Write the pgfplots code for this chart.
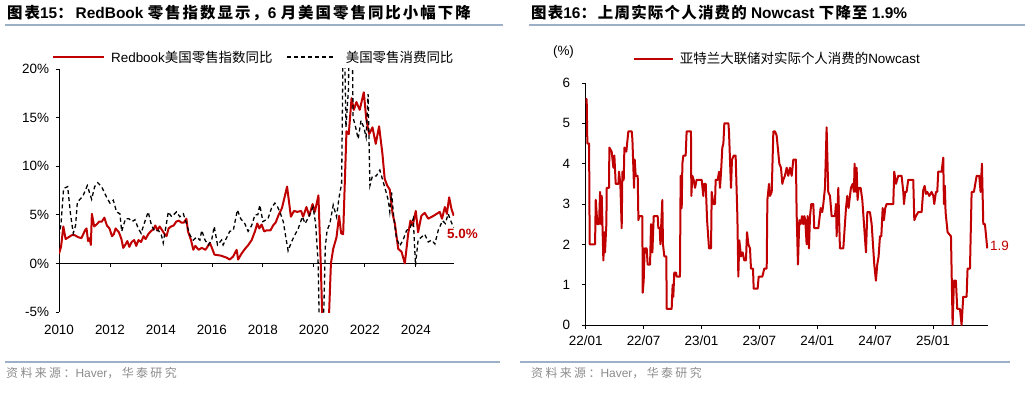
\documentclass[border=0pt]{standalone}
\usepackage{fontspec}
\setmainfont{Liberation Sans}
\newfontfamily\cjk{Noto Sans CJK SC}
\newfontfamily\cjkt{Noto Sans CJK SC}[LetterSpace=8]
\newfontfamily\cjktl{Noto Sans CJK SC}[LetterSpace=13]
\newfontfamily\cjks{Noto Sans CJK SC}[LetterSpace=20]
\usepackage{pgfplots}
\pgfplotsset{compat=1.18}
\definecolor{hred}{HTML}{C00000}
\definecolor{rulec}{HTML}{9CB0C8}
\definecolor{srcgray}{HTML}{8C8C8C}
\newcommand\zh[1]{{\cjk #1}}
\newcommand\zt[1]{{\cjkt #1}}
\newcommand\ztl[1]{{\cjktl #1}}
\newcommand\zs[1]{{\cjks #1}}
\newcommand\fs[1]{\fontsize{#1}{#1}\selectfont}
\begin{document}
\begin{tikzpicture}[x=1bp,y=1bp]
\path[use as bounding box] (0,0) rectangle (1030,392);
\fill[rulec] (5,366) rectangle (503,368);
\fill[rulec] (529,366) rectangle (1025,368);
\fill[rulec] (5,29) rectangle (500,31);
\fill[rulec] (520,29) rectangle (1010,31);
% titles
\node[anchor=base west, inner sep=0] at (7,374) {\fs{15.5}\bfseries \ztl{图表}15\ztl{：}\hspace{3bp}RedBook \ztl{零售指数显示，}6 \ztl{月美国零售同比小幅下降}};
\node[anchor=base west, inner sep=0] at (531,374) {\fs{15.5}\bfseries \zt{图表}16\zt{：}\hspace{2bp}\zt{上周实际个人消费的} Nowcast \zt{下降至} 1.9\%};
\node[anchor=west, inner sep=0, text=srcgray] at (6,19) {\fs{12}\zs{资料来源：}Haver\zs{，华泰研究}};
\node[anchor=west, inner sep=0, text=srcgray] at (531,19) {\fs{12}\zs{资料来源：}Haver\zs{，华泰研究}};

\begin{axis}[
  at={(59bp,80bp)}, anchor=south west, scale only axis,
  width=395bp, height=243bp,
  xmin=2010, xmax=2025.5, ymin=-5, ymax=20,
  axis y line=left, axis x line=middle, axis line style={-, line width=0.8bp},
  hide obscured x ticks=false,
  xtick={2010,2012,2014,2016,2018,2020,2022,2024},
  xticklabels={2010,2012,2014,2016,2018,2020,2022,2024},
  ytick={-5,0,5,10,15,20},
  yticklabels={-5\%,0\%,5\%,10\%,15\%,20\%},
  tick align=outside, major tick length=3.5bp,
  tick style={black, line width=0.8bp},
  xticklabel style={yshift=-55bp},
  yticklabel style={xshift=-3bp},
  tick label style={font=\fs{13.5}},
  legend style={at={(-0.018,1.049)}, anchor=west, draw=none, fill=none,
    inner sep=0pt, font=\fs{13.5}, legend columns=2,
    nodes={inner sep=0pt},
    /tikz/column 1/.style={column sep=6bp},
    /tikz/column 2/.style={column sep=14bp},
    /tikz/column 3/.style={column sep=11bp}},
  legend cell align=left,
]
\addplot[hred, line width=2bp, line join=round,
  legend image code/.code={\draw[hred, line width=2bp] (0bp,0bp) -- (51bp,0bp);}] coordinates {
(2010.00,1.0)(2010.08,1.7)(2010.17,3.8)(2010.26,2.5)(2010.38,2.7)(2010.50,2.9)(2010.62,2.9)(2010.75,2.7)(2010.88,2.6)
(2011.02,3.4)(2011.08,3.6)(2011.14,2.3)(2011.20,2.6)(2011.25,1.9)(2011.29,5.1)(2011.38,3.8)(2011.47,4.0)(2011.58,4.3)(2011.68,4.3)(2011.78,4.7)(2011.88,3.9)(2011.98,3.6)
(2012.08,2.8)(2012.15,3.0)(2012.22,3.6)(2012.35,3.2)(2012.45,2.5)(2012.52,1.6)(2012.60,1.9)(2012.68,2.3)(2012.76,1.7)(2012.85,2.2)(2012.95,2.4)
(2013.03,1.8)(2013.12,2.4)(2013.22,2.2)(2013.32,2.8)(2013.40,2.5)(2013.50,3.0)(2013.60,3.3)(2013.70,3.5)(2013.78,3.9)(2013.86,3.4)(2013.95,3.8)
(2014.05,3.4)(2014.15,3.0)(2014.22,2.8)(2014.30,3.6)(2014.40,3.8)(2014.50,3.9)(2014.60,4.3)(2014.70,4.4)(2014.80,4.2)(2014.90,4.2)
(2015.00,4.6)(2015.06,3.3)(2015.18,2.4)(2015.27,1.4)(2015.35,1.8)(2015.48,1.4)(2015.60,1.6)(2015.75,1.4)(2015.92,2.1)
(2016.00,1.6)(2016.10,0.9)(2016.35,0.8)(2016.57,0.6)(2016.70,0.4)(2016.83,0.7)(2016.97,1.4)
(2017.03,0.4)(2017.16,1.0)(2017.30,1.5)(2017.43,1.9)(2017.56,2.4)(2017.69,3.3)(2017.78,4.1)(2017.86,3.6)(2017.95,4.0)
(2018.05,3.3)(2018.15,3.4)(2018.30,3.4)(2018.40,3.9)(2018.50,4.2)(2018.62,5.0)(2018.75,5.7)(2018.95,7.9)
(2019.10,4.8)(2019.22,5.4)(2019.35,5.3)(2019.50,5.4)(2019.58,4.8)(2019.71,5.8)(2019.82,4.9)(2019.95,6.1)
(2020.04,5.3)(2020.18,7.0)(2020.27,0.0)(2020.37,-9.0)(2020.50,-9.0)(2020.60,-5.0)(2020.67,0.0)(2020.76,1.5)(2020.89,2.7)(2020.99,4.9)
(2021.07,3.1)(2021.15,3.0)(2021.28,13.6)(2021.37,13.3)(2021.48,17.0)(2021.57,15.8)(2021.67,16.6)(2021.80,15.8)(2021.96,17.6)
(2022.06,14.8)(2022.17,13.3)(2022.30,14.0)(2022.43,12.3)(2022.56,14.1)(2022.69,11.3)(2022.78,8.7)(2022.88,8.0)(2022.98,7.6)
(2023.09,5.1)(2023.18,4.1)(2023.31,1.5)(2023.44,1.2)(2023.57,0.0)(2023.70,3.0)(2023.79,4.4)(2023.88,3.9)
(2024.00,5.4)(2024.09,3.2)(2024.22,4.9)(2024.35,5.2)(2024.49,4.6)(2024.70,4.9)(2024.94,5.3)
(2025.03,4.6)(2025.14,5.8)(2025.22,5.1)(2025.31,6.8)(2025.40,5.6)(2025.49,4.9)
};
\addlegendentry{Redbook\zh{美国零售指数同比}}
\addplot[black, line width=1.3bp, dash pattern=on 4bp off 3bp,
  legend image code/.code={\draw[black, line width=1.3bp, dash pattern=on 4bp off 3bp] (0bp,0bp) -- (47bp,0bp);}] coordinates {
(2010.00,2.8)(2010.08,4.1)(2010.18,7.7)(2010.34,7.9)(2010.45,5.1)(2010.56,3.1)(2010.65,3.9)(2010.72,6.3)(2010.86,6.7)(2010.95,7.0)
(2011.11,8.0)(2011.28,6.6)(2011.40,7.9)(2011.52,8.3)(2011.67,7.9)(2011.87,6.8)
(2012.00,6.2)(2012.13,6.5)(2012.26,5.3)(2012.39,5.1)(2012.46,3.3)(2012.61,4.6)(2012.74,4.6)(2012.87,4.3)(2012.98,4.5)
(2013.11,3.6)(2013.22,3.1)(2013.37,4.3)(2013.50,5.3)(2013.63,3.9)(2013.76,3.3)(2013.90,3.4)
(2014.02,2.9)(2014.09,2.1)(2014.29,5.3)(2014.42,4.8)(2014.61,5.3)(2014.74,4.8)(2014.88,5.1)
(2015.00,4.1)(2015.14,2.9)(2015.27,2.4)(2015.40,2.7)(2015.53,2.4)(2015.60,3.4)(2015.73,2.4)(2015.86,1.9)(2015.99,2.4)
(2016.09,3.8)(2016.22,1.9)(2016.38,2.4)(2016.44,1.9)(2016.57,2.6)(2016.70,3.3)(2016.84,3.4)
(2017.00,5.5)(2017.13,4.6)(2017.29,4.1)(2017.42,3.3)(2017.56,3.9)(2017.69,5.0)(2017.80,5.0)(2017.88,6.0)
(2018.00,4.3)(2018.20,4.6)(2018.34,5.7)(2018.47,6.2)(2018.58,5.8)(2018.68,5.2)(2018.80,4.3)(2018.90,2.7)(2018.99,1.3)
(2019.12,2.2)(2019.25,2.9)(2019.39,3.6)(2019.55,4.8)(2019.66,4.1)(2019.80,4.8)(2019.97,5.8)
(2020.07,4.1)(2020.17,0.0)(2020.28,-16)(2020.38,-6)(2020.45,1.7)(2020.52,3.4)(2020.63,4.1)(2020.76,6.0)(2020.89,4.8)(2020.99,6.8)
(2021.09,8.2)(2021.17,28)(2021.26,14.0)(2021.36,18)(2021.44,40)(2021.54,15.0)(2021.64,14.0)(2021.74,12.8)(2021.85,14.7)(2021.96,14.0)
(2022.05,13.0)(2022.13,17.4)(2022.20,8.0)(2022.30,9.0)(2022.45,9.0)(2022.59,9.6)(2022.72,8.4)(2022.85,7.2)(2022.92,6.5)(2022.98,5.3)
(2023.05,7.3)(2023.14,4.6)(2023.24,2.6)(2023.37,1.8)(2023.50,2.4)(2023.64,3.4)(2023.77,3.6)(2023.90,4.6)(2023.99,-0.2)
(2024.09,2.4)(2024.22,2.7)(2024.35,3.0)(2024.49,2.2)(2024.62,2.4)(2024.75,2.0)(2024.88,3.4)
(2025.05,4.4)(2025.16,4.1)(2025.27,5.1)(2025.40,4.2)(2025.49,3.7)
};
\addlegendentry{\zh{美国零售消费同比}}
\end{axis}
\node[anchor=west, inner sep=0, text=hred] at (447,158) {\fs{13.5}\bfseries 5.0\%};

\begin{axis}[
  at={(585.7bp,67bp)}, anchor=south west, scale only axis,
  width=402.3bp, height=242bp,
  xmin=0, xmax=41.7, ymin=0, ymax=6,
  axis lines=left, axis line style={-, line width=0.8bp},
  xtick={0,6,12,18,24,30,36},
  xticklabels={22/01,22/07,23/01,23/07,24/01,24/07,25/01},
  ytick={0,1,2,3,4,5,6}, yticklabels={0,1,2,3,4,5,6},
  tick align=outside, major tick length=4bp,
  tick style={black, line width=0.8bp},
  yticklabel style={xshift=-8bp},
  xticklabel style={yshift=-3bp},
  tick label style={font=\fs{13.5}},
  legend style={at={(0.117,1.099)}, anchor=west, draw=none, fill=none,
    inner sep=0pt, font=\fs{13.5}, nodes={inner sep=0pt},
    /tikz/every odd column/.style={column sep=6bp}},
  legend cell align=left,
]
\addplot[hred, line width=2bp, line join=round,
  legend image code/.code={\draw[hred, line width=2bp] (0bp,0bp) -- (39bp,0bp);}] coordinates {
(0,5.6)(0.10,5.6)(0.17,4.5)(0.35,4.5)(0.41,2.0)(0.97,2.0)(1.04,3.1)(1.21,2.5)(1.38,2.5)(1.49,3.3)(1.59,2.5)(1.66,3.2)(1.83,1.6)(1.93,2.3)
(2.00,1.8)(2.14,2.5)(2.18,3.4)(2.42,3.4)(2.45,4.4)(2.69,4.3)(2.87,3.9)(2.97,4.2)(3.11,3.5)(3.39,3.5)(3.45,3.8)(3.59,3.5)(3.73,2.4)(3.80,3.8)(3.94,3.6)
(4.01,4.4)(4.21,4.3)(4.42,4.8)(4.77,4.8)(4.84,4.6)(5.01,3.4)(5.08,4.1)(5.18,3.7)(5.39,3.7)(5.46,2.6)(5.56,2.7)(5.87,2.7)(5.91,0.8)
(6.01,1.1)(6.11,1.9)(6.32,1.9)(6.42,1.5)(6.67,1.5)(6.77,2.5)(6.91,1.8)(7.05,2.7)(7.46,2.7)(7.53,2.4)(7.67,2.4)(7.74,2.0)(7.94,3.1)
(8.01,2.0)(8.15,1.7)(8.36,1.7)(8.39,0.4)(8.91,0.4)(9.01,1.0)(9.08,0.7)(9.18,1.3)(9.36,1.3)(9.43,1.2)(9.77,1.2)(9.84,3.7)(9.95,2.9)
(10.02,4.0)(10.12,4.2)(10.36,4.2)(10.46,4.8)(10.91,4.8)(10.95,3.2)(11.05,3.7)(11.19,3.6)(11.33,3.4)(11.50,3.6)(12.02,3.6)(12.19,3.2)(12.26,3.5)(12.44,3.5)(12.58,2.6)(12.78,1.9)(12.99,1.9)
(13.06,3.3)(13.23,3.0)(13.40,3.0)(13.47,3.6)(13.68,3.6)(13.82,3.8)(13.92,3.4)(14.03,3.8)(14.16,4.4)(14.27,4.5)(14.37,5.0)(14.79,5.0)(14.85,4.8)
(15.06,3.4)(15.16,4.1)(15.34,4.2)(15.54,4.2)(15.72,2.7)(15.82,1.2)(15.92,2.1)(16.10,1.7)(16.27,1.8)(16.44,1.6)(16.61,1.6)(16.72,2.3)(16.86,2.0)
(17.03,1.9)(17.13,1.4)(17.34,1.4)(17.41,0.9)(17.82,0.9)(17.93,1.2)(18.31,1.2)(18.51,1.4)(18.76,1.4)(18.83,3.1)(19.00,3.5)(19.10,3.2)(19.28,3.3)
(19.45,4.8)(19.62,4.8)(19.79,4.7)(20.07,4.0)(20.24,3.9)(20.38,3.5)(20.48,3.6)(20.65,3.7)(20.83,3.9)(21.00,3.7)(21.17,3.9)(21.35,3.7)(21.52,4.1)(21.79,4.1)(21.86,2.8)
(22.00,1.5)(22.14,2.6)(22.28,2.5)(22.42,2.7)(22.55,2.5)(22.66,2.7)(22.76,2.6)(22.90,2.0)(23.00,2.7)(23.14,1.9)(23.25,2.7)(23.38,3.0)(23.59,3.0)(23.69,2.4)
(24.11,2.4)(24.21,2.6)(24.35,2.9)(24.52,2.8)(24.63,3.0)(24.80,3.4)(24.97,4.9)(25.14,3.3)(25.32,3.2)(25.49,2.7)(25.84,2.7)(25.94,3.0)
(26.01,2.2)(26.18,3.4)(26.35,1.9)(26.70,1.9)(26.98,2.9)(27.11,3.2)(27.25,2.9)(27.39,3.2)(27.49,3.4)(27.67,3.5)(27.80,3.3)(27.87,4.0)
(28.01,3.3)(28.08,3.9)(28.18,3.1)(28.29,3.4)(28.50,3.4)(28.67,3.1)(29.05,1.8)(29.19,2.8)(29.46,2.8)(29.64,2.5)(29.91,1.5)
(30.08,1.1)(30.22,1.5)(30.36,1.7)(30.50,2.2)(30.64,2.2)(30.78,2.9)(30.91,2.6)(31.05,2.9)(31.19,3.0)(31.88,3.0)(31.98,3.8)
(32.16,3.5)(32.40,3.7)(32.74,3.7)(32.92,3.3)(32.99,3.0)(33.12,3.3)(33.26,3.3)(33.43,3.6)(33.95,3.6)
(34.06,2.6)(34.23,2.7)(34.47,2.8)(34.82,2.8)(34.99,3.35)(35.13,3.45)(35.27,3.25)(35.40,3.3)(35.61,3.2)(35.85,3.3)
(36.03,3.2)(36.13,3.0)(36.30,3.3)(36.44,3.3)(36.54,3.8)(36.89,3.8)(37.06,4.15)(37.13,3.0)(37.23,3.45)(37.30,2.8)(37.51,2.3)(37.86,2.2)
(38.03,0.0)(38.17,1.1)(38.37,1.1)(38.51,0.4)(38.79,0.4)(38.96,0.0)(39.13,0.7)(39.48,0.7)(39.58,1.4)(39.83,1.4)
(40.00,3.3)(40.24,3.3)(40.52,3.7)(40.79,3.7)(40.93,3.3)(41.07,4.0)(41.21,2.5)(41.38,2.5)(41.62,1.9)
};
\addlegendentry{\zh{亚特兰大联储对实际个人消费的}Nowcast}
\end{axis}
\node[anchor=west, inner sep=0, text=hred] at (990,146) {\fs{13.5}1.9};
\node[inner sep=0] at (563.5,340) {\fs{13.5}(\%)};
\end{tikzpicture}
\end{document}
